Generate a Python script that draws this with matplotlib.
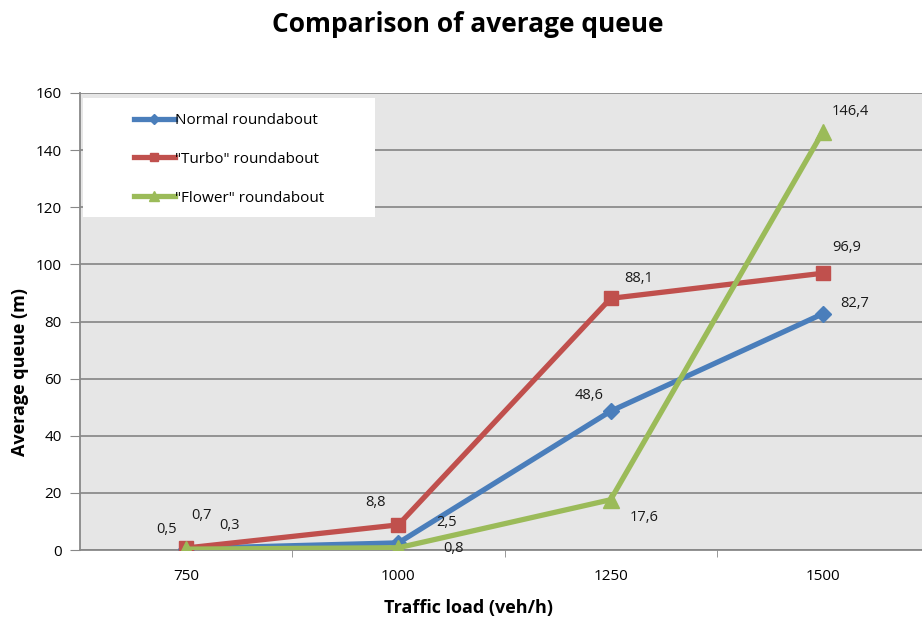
import matplotlib
matplotlib.use("Agg")
import matplotlib.pyplot as plt
from matplotlib.patches import Rectangle

# Data
loads = ["750", "1000", "1250", "1500"]
normal = [0.5, 2.5, 48.6, 82.7]
turbo = [0.7, 8.8, 88.1, 96.9]
flower = [0.3, 0.8, 17.6, 146.4]
series_names = ['Normal roundabout', '"Turbo" roundabout', '"Flower" roundabout']

# label offsets in pixels (dx, dy) for each series / point
normal_off = [(-20, 19), (48, 20), (-22, 16), (32, 10)]
turbo_off = [(15, 33), (-23, 22), (28, 20), (24, 26)]
flower_off = [(43, 24), (55, -1), (33, -18), (27, 20)]

plt.rcParams['font.family'] = ['Open Sans', 'DejaVu Sans']

fig = plt.figure(figsize=(9.22, 6.24), dpi=100)
ax = fig.add_axes([80 / 922, 74 / 624, 849 / 922, 457 / 624])
ax.set_facecolor('#e6e6e6')

x = list(range(len(loads)))
styles = [
    (normal, '#4a7ebb', 'D', 8, normal_off),
    (turbo, '#c0504d', 's', 10, turbo_off),
    (flower, '#9bbb59', '^', 11, flower_off),
]
for (vals, color, marker, ms, offs), name in zip(styles, series_names):
    ax.plot(x, vals, color=color, lw=3.8, marker=marker, markersize=ms,
            label=name, zorder=3)
    for xi, v, off in zip(x, vals, offs):
        ax.annotate(f"{v:.1f}".replace('.', ','), (xi, v), xytext=off,
                    textcoords='offset pixels', ha='center', va='center',
                    fontsize=10.5, color='#1a1a1a')

ax.set_xlim(-0.5, 3.5)
ax.set_ylim(0, 160)
ax.set_yticks(range(0, 161, 20))
ax.set_xticks(x)
ax.set_xticklabels(loads)
ax.set_xticks([0.5, 1.5, 2.5], minor=True)
ax.tick_params(axis='x', which='major', length=0, pad=14, labelsize=11)
ax.tick_params(axis='x', which='minor', length=5, color='#888888')
ax.tick_params(axis='y', length=7, color='#888888', pad=6, labelsize=11)
ax.grid(axis='y', color='#8c8c8c', lw=1.3)
ax.set_axisbelow(True)
for s in ['top', 'right']:
    ax.spines[s].set_visible(False)
for s in ['left', 'bottom']:
    ax.spines[s].set_color('#888888')
    ax.spines[s].set_linewidth(1.3)

# Legend box
ax.add_patch(Rectangle((0.003, 0.729), 0.344, 0.26, transform=ax.transAxes,
                       facecolor='white', edgecolor='none', zorder=2.5))
ax.legend(loc='upper left', bbox_to_anchor=(0.047, 0.986), frameon=False,
          fontsize=11, labelspacing=1.55, handlelength=2.7, handletextpad=0.0,
          markerscale=0.6)

fig.text(468 / 922, 1 - 24 / 624, 'Comparison of average queue', ha='center',
         va='center', fontsize=19, fontweight='bold')
fig.text(468 / 922, 1 - 608 / 624, 'Traffic load (veh/h)', ha='center',
         va='center', fontsize=13, fontweight='bold')
fig.text(20 / 922, 1 - 372 / 624, 'Average queue (m)', ha='center',
         va='center', rotation=90, fontsize=13, fontweight='bold')

fig.savefig('out.png', dpi=100)
